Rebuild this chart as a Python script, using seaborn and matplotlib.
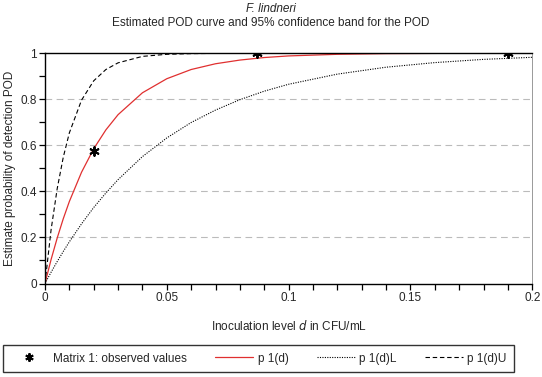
import numpy as np
import pandas as pd
import seaborn as sns
import matplotlib.pyplot as plt
from matplotlib.ticker import MultipleLocator
from matplotlib.lines import Line2D

# values
d = [0, 0.0025, 0.005, 0.0075, 0.01, 0.015, 0.02, 0.025, 0.03, 0.04, 0.05,
     0.06, 0.07, 0.08, 0.09, 0.1, 0.12, 0.14, 0.16, 0.18, 0.2]
pod = [0, 0.104, 0.197, 0.281, 0.356, 0.483, 0.585, 0.667, 0.733, 0.828, 0.889,
       0.929, 0.954, 0.970, 0.981, 0.988, 0.995, 0.998, 0.999, 1.0, 1.0]
pod_low = [0, 0.049, 0.095, 0.139, 0.181, 0.259, 0.330, 0.393, 0.451, 0.551, 0.632,
           0.699, 0.753, 0.798, 0.835, 0.865, 0.909, 0.939, 0.959, 0.973, 0.982]
pod_up = [0, 0.233, 0.411, 0.548, 0.654, 0.796, 0.880, 0.929, 0.958, 0.986, 0.995,
          0.998, 0.999, 1.0, 1.0, 1.0, 1.0, 1.0, 1.0, 1.0, 1.0]

obs_d = [0.02, 0.087, 0.19]
obs_pod = [0.575, 1.0, 1.0]

curves = pd.DataFrame({'d': d, 'pod': pod, 'low': pod_low, 'up': pod_up})
obs = pd.DataFrame({'d': obs_d, 'pod': obs_pod})

sns.set_style('white')
plt.rcParams['font.family'] = ['Liberation Sans', 'DejaVu Sans']
fs = 8.5

fig = plt.figure(figsize=(5.42, 3.77), dpi=100)
ax = fig.add_axes([0.083, 0.248, 0.899, 0.611])

for yv in [0.2, 0.4, 0.6, 0.8]:
    ax.axhline(yv, color='#bbbbbb', lw=0.8, ls=(0, (6, 4)), zorder=0)

sns.lineplot(data=curves, x='d', y='low', ax=ax, color='black', lw=0.8,
             linestyle=(0, (1, 1.2)))
sns.lineplot(data=curves, x='d', y='up', ax=ax, color='black', lw=0.8,
             linestyle=(0, (4, 2.5)))
sns.lineplot(data=curves, x='d', y='pod', ax=ax, color='#e03030', lw=0.9)
sns.scatterplot(data=obs, x='d', y='pod', ax=ax, marker=(6, 2, 0), s=40,
                color='black', linewidth=1.4, zorder=5)

ax.set_xlim(0, 0.2)
ax.set_ylim(0, 1)
ax.xaxis.set_major_locator(MultipleLocator(0.05))
ax.xaxis.set_minor_locator(MultipleLocator(0.01))
ax.yaxis.set_major_locator(MultipleLocator(0.2))
ax.yaxis.set_minor_locator(MultipleLocator(0.1))
ax.xaxis.set_major_formatter(plt.FuncFormatter(lambda v, p: f'{v:g}'))
ax.yaxis.set_major_formatter(plt.FuncFormatter(lambda v, p: f'{v:g}'))
ax.tick_params(which='both', direction='out', length=4, width=0.9, color='black',
               left=True, bottom=True, labelsize=fs, pad=2)

for s in ['left', 'top', 'bottom']:
    ax.spines[s].set_color('black')
    ax.spines[s].set_linewidth(1.0)
ax.spines['right'].set_color('#999999')
ax.spines['right'].set_linewidth(0.7)

ax.set_xlabel('Inoculation level $d$ in CFU/mL', fontsize=fs, labelpad=11)
ax.set_ylabel('Estimate probability of detection POD', fontsize=fs, labelpad=3)

fig.text(0.5, 0.992, 'F. lindneri', ha='center', va='top', style='italic', fontsize=fs)
fig.text(0.5, 0.955, 'Estimated POD curve and 95% confidence band for the POD',
         ha='center', va='top', fontsize=fs)

handles = [
    Line2D([], [], ls='none', marker=(6, 2, 0), color='black', markersize=6, mew=1.4),
    Line2D([], [], color='#e03030', lw=0.9),
    Line2D([], [], color='black', lw=0.8, linestyle=(0, (1, 1.2))),
    Line2D([], [], color='black', lw=0.8, linestyle=(0, (4, 2.5))),
]
labels = ['Matrix 1: observed values', 'p 1(d)', 'p 1(d)L', 'p 1(d)U']
leg = fig.legend(handles, labels, loc='center left', bbox_to_anchor=(0.006, 0.049),
                 ncol=4, frameon=True, fancybox=False, fontsize=fs,
                 handlelength=3.2, columnspacing=2.4, handletextpad=0.4,
                 borderpad=0.6, borderaxespad=0, edgecolor='black')
leg.get_frame().set_linewidth(1.0)

fig.savefig('out.png', dpi=100)
